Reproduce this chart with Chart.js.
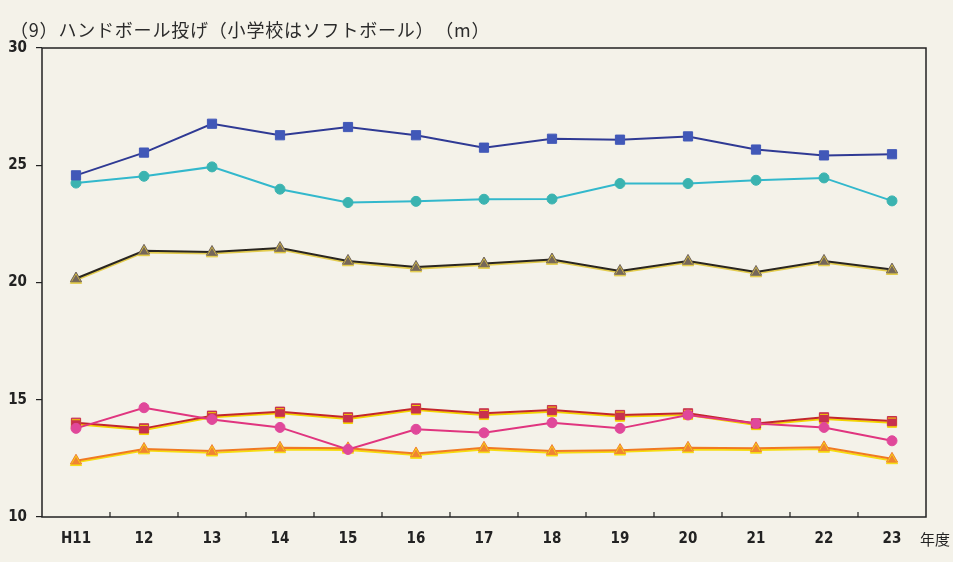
<!DOCTYPE html>
<html lang="ja">
<head>
<meta charset="utf-8">
<title>ハンドボール投げ</title>
<script src="https://cdn.jsdelivr.net/npm/chart.js@4/dist/chart.umd.min.js"></script>
<style>
  html, body { margin: 0; padding: 0; background: #f4f2e9; }
  #wrap { position: relative; width: 953px; height: 562px; overflow: hidden; }
  #title {
    position: absolute; left: 10px; top: 16px;
    font-family: "Noto Sans CJK JP", sans-serif; font-size: 18px;
    letter-spacing: 0.8px; color: #2b2b2b; white-space: pre;
  }
  canvas { position: absolute; left: 0; top: 0; }
</style>
</head>
<body>
<div id="wrap">
  <canvas id="c" width="953" height="562"></canvas>
  <div id="title">（9）ハンドボール投げ（小学校はソフトボール）　（m）</div>
</div>
<script>
// 年度
const years = ['H11', '12', '13', '14', '15', '16', '17', '18', '19', '20', '21', '22', '23'];
const yTicks = [10, 15, 20, 25, 30];
const unitLabel = '年度';

// 記録（m）
const seriesA = [24.57, 25.54, 26.77, 26.28, 26.63, 26.28, 25.75, 26.13, 26.09, 26.23, 25.67, 25.42, 25.47];
const seriesB = [24.24, 24.53, 24.93, 23.98, 23.41, 23.46, 23.55, 23.56, 24.22, 24.22, 24.36, 24.46, 23.48];
const seriesC = [20.17, 21.35, 21.30, 21.47, 20.92, 20.66, 20.81, 20.98, 20.49, 20.92, 20.45, 20.92, 20.55];
const seriesD = [14.02, 13.78, 14.32, 14.49, 14.25, 14.63, 14.42, 14.56, 14.35, 14.42, 13.99, 14.25, 14.09];
const seriesE = [13.78, 14.66, 14.16, 13.82, 12.88, 13.74, 13.59, 14.02, 13.78, 14.35, 13.99, 13.82, 13.25];
const seriesF = [12.40, 12.90, 12.81, 12.95, 12.93, 12.71, 12.95, 12.81, 12.85, 12.95, 12.93, 12.97, 12.48];

const numFont = { family: "'Liberation Sans Narrow', 'DejaVu Sans Condensed', Arial, sans-serif", size: 15, weight: 'bold' };

function line(data, lineColor, fill, style, radius, glow) {
  return {
    data,
    borderColor: lineColor,
    borderWidth: 2,
    backgroundColor: fill,
    pointBackgroundColor: fill,
    pointBorderColor: fill,
    pointBorderWidth: 1,
    pointStyle: style,
    pointRadius: radius,
    tension: 0,
    glow
  };
}

// 線の下に黄色い縁を付ける
const glowPlugin = {
  id: 'glow',
  beforeDatasetDraw(chart, args) {
    const ds = chart.data.datasets[args.index];
    if (!ds.glow) return;
    const ctx = chart.ctx;
    ctx.save();
    ctx.shadowColor = ds.glow;
    ctx.shadowOffsetX = 0;
    ctx.shadowOffsetY = 1.6;
    ctx.shadowBlur = 0;
  },
  afterDatasetDraw(chart, args) {
    const ds = chart.data.datasets[args.index];
    if (!ds.glow) return;
    chart.ctx.restore();
  }
};

// 枠線・内向きの目盛り・「年度」
const framePlugin = {
  id: 'frame',
  afterDraw(chart) {
    const { ctx, chartArea: a } = chart;
    const x = chart.scales.x;
    ctx.save();
    ctx.strokeStyle = '#222';
    ctx.lineWidth = 1.5;
    ctx.strokeRect(a.left, a.top, a.right - a.left, a.bottom - a.top);
    ctx.lineWidth = 1.2;
    ctx.beginPath();
    for (let i = 1; i < years.length; i++) {
      const px = (x.getPixelForValue(i - 1) + x.getPixelForValue(i)) / 2;
      ctx.moveTo(px, a.bottom);
      ctx.lineTo(px, a.bottom - 5);
    }
    ctx.stroke();
    ctx.fillStyle = '#222';
    ctx.font = "15px 'Noto Sans CJK JP', sans-serif";
    ctx.textBaseline = 'middle';
    ctx.textAlign = 'left';
    ctx.fillText(unitLabel, a.right - 6, a.bottom + 22);
    ctx.restore();
  }
};

new Chart(document.getElementById('c'), {
  type: 'line',
  data: {
    labels: years,
    datasets: [
      line(seriesA, '#2f3a94', '#4158b8', 'rect', 6.5, null),
      line(seriesB, '#32b8cc', '#3ab3b0', 'circle', 5, null),
      line(seriesC, '#2a2620', '#75675a', 'triangle', 6.5, 'rgba(225,200,60,0.9)'),
      line(seriesE, '#e0357f', '#e0489a', 'circle', 5, null),
      line(seriesD, '#c3262c', '#c8304e', 'rect', 6.5, '#f3d400'),
      line(seriesF, '#f07a22', '#f08432', 'triangle', 6.5, '#f6dc10')
    ]
  },
  options: {
    responsive: false,
    animation: false,
    layout: { padding: { left: 0, right: 27, top: 48, bottom: 0 } },
    plugins: { legend: { display: false }, title: { display: false }, tooltip: { enabled: false } },
    scales: {
      x: {
        type: 'category',
        offset: true,
        border: { display: false },
        grid: { display: false, offset: true },
        ticks: { color: '#222', font: numFont, padding: 5, maxRotation: 0, autoSkip: false },
        afterFit(scale) { scale.height = 45; }
      },
      y: {
        min: 10,
        max: 30,
        border: { display: false },
        afterBuildTicks(scale) { scale.ticks = yTicks.map(v => ({ value: v })); },
        grid: { drawOnChartArea: false, drawTicks: true, tickLength: 6, color: '#222', lineWidth: 1.2 },
        ticks: { color: '#222', font: numFont, padding: 9 },
        afterFit(scale) { scale.width = 42; }
      }
    }
  },
  plugins: [glowPlugin, framePlugin]
});
</script>
</body>
</html>
